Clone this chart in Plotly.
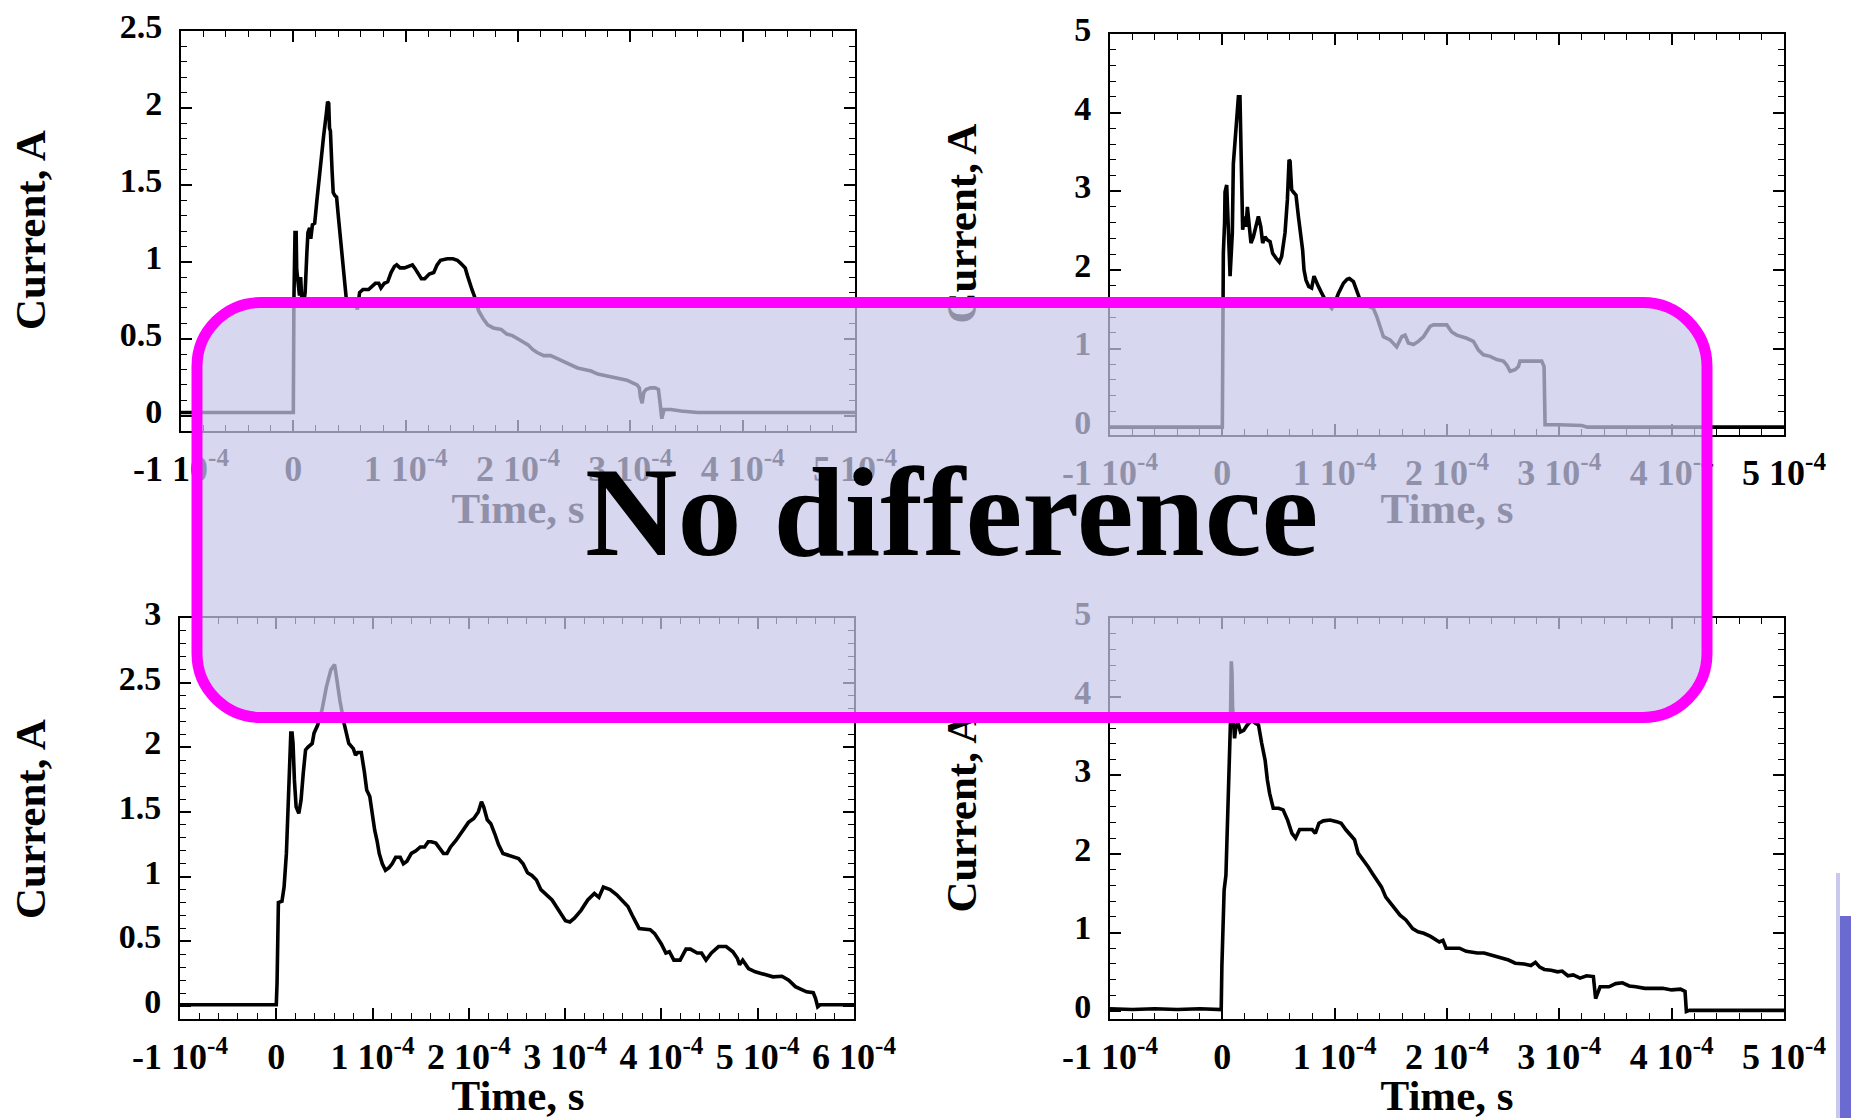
import plotly.graph_objects as go

W, H = 1851, 1118
SERIF = "Liberation Serif"

# ---------------------------------------------------------------------------
# Discharge current records: time in microseconds, current in amperes
# ---------------------------------------------------------------------------
time_a_us = [-100, -1, 0, 0.5, 1.0, 1.5, 2.5, 3.0, 4.0, 5.5, 6.5, 7.5, 9, 10.5, 12, 13, 14.5,
             15.5, 17, 19, 21, 23, 25, 27, 28.5, 29.5, 30.5, 31.5, 32.2, 33, 34.5, 35.5, 37,
             38.5, 40, 42, 43.5, 45, 47, 49, 52, 55, 57, 59, 62, 67, 70, 73, 76, 78, 81, 84,
             87, 90, 92, 95, 99, 102, 106, 108, 111, 114, 117, 121, 125, 128, 131, 137, 142,
             146, 149, 153, 155, 157, 159, 162, 165, 169, 173, 178, 185, 190, 195, 202, 209,
             213, 217, 223, 229, 235, 241, 247, 253, 259, 265, 271, 277, 283, 290, 297, 303,
             306, 308, 309, 310.5, 312, 314, 318, 322, 325, 326.5, 328, 330, 336, 345, 360,
             380, 500]
current_a = [0.02, 0.02, 0.02, 0.75, 0.88, 1.19, 1.19, 0.95, 0.88, 0.78, 0.90, 0.76, 0.72, 0.80,
             1.05, 1.19, 1.22, 1.15, 1.24, 1.25, 1.40, 1.52, 1.68, 1.82, 1.89, 1.97, 2.04, 2.03,
             1.87, 1.85, 1.59, 1.45, 1.43, 1.42, 1.30, 1.15, 1.05, 0.90, 0.77, 0.73, 0.75, 0.74,
             0.69, 0.80, 0.82, 0.82, 0.84, 0.86, 0.86, 0.83, 0.86, 0.87, 0.93, 0.97, 0.98, 0.96,
             0.96, 0.97, 0.98, 0.96, 0.92, 0.89, 0.89, 0.92, 0.93, 0.98, 1.01, 1.02, 1.02, 1.01,
             0.99, 0.96, 0.91, 0.86, 0.82, 0.76, 0.68, 0.63, 0.59, 0.57, 0.56, 0.53, 0.52, 0.49,
             0.46, 0.43, 0.41, 0.39, 0.39, 0.37, 0.35, 0.33, 0.31, 0.30, 0.29, 0.27, 0.26, 0.25,
             0.24, 0.23, 0.21, 0.20, 0.18, 0.12, 0.08, 0.15, 0.17, 0.18, 0.18, 0.17, 0.08, -0.02,
             0.04, 0.04, 0.03, 0.02, 0.02, 0.02]

time_b_us = [-100, -1, 0, 0.5, 0.9, 2.0, 2.4, 3.9, 4.8, 6.0, 6.9, 7.9, 8.9, 9.8, 11.3, 12.8, 14.3,
             15.7, 16.3, 17.2, 18.1, 19.6, 21.1, 22.3, 24.1, 25.5, 27.6, 29.7, 32.1, 34.2, 35.9,
             38.0, 40.1, 42.5, 44.8, 47.8, 50.8, 52.8, 55.8, 57.9, 59.4, 60.3, 61.7, 63.2, 65.6,
             67.7, 69.8, 71.5, 72.7, 74.5, 76.9, 79.5, 81.6, 83.4, 85.5, 87.9, 89.9, 93, 97.4,
             100, 103.3, 107.8, 111, 113.1, 116.7, 119.6, 122.6, 128, 134.4, 137.4, 140.4, 143.4,
             149.3, 155.2, 159.7, 162.7, 165.6, 170.1, 174.5, 179, 184.9, 187.9, 199.8, 204.2,
             208.7, 217.6, 223.5, 228, 232.4, 238.4, 244.3, 250.2, 253.2, 256.2, 260.6, 263.6,
             265, 268, 284.3, 286.4, 287.3, 300, 320, 325, 500]
current_b = [0.0, 0.0, 0.0, 1.2, 2.21, 2.6, 2.99, 3.08, 2.76, 2.30, 1.92, 2.2, 2.47, 3.35, 3.65,
             3.93, 4.20, 4.20, 3.82, 3.02, 2.51, 2.68, 2.55, 2.80, 2.59, 2.34, 2.42, 2.55, 2.68,
             2.55, 2.34, 2.42, 2.38, 2.36, 2.21, 2.15, 2.10, 2.17, 2.47, 2.89, 3.40, 3.38, 3.02,
             2.99, 2.95, 2.68, 2.47, 2.25, 2.0, 1.87, 1.79, 1.77, 1.92, 1.87, 1.79, 1.72, 1.66,
             1.58, 1.51, 1.58, 1.70, 1.83, 1.88, 1.89, 1.85, 1.74, 1.62, 1.55, 1.51, 1.41, 1.28,
             1.15, 1.11, 1.02, 1.15, 1.17, 1.07, 1.05, 1.09, 1.15, 1.28, 1.30, 1.30, 1.21, 1.17,
             1.13, 1.09, 0.98, 0.92, 0.90, 0.86, 0.84, 0.79, 0.71, 0.73, 0.77, 0.84, 0.84, 0.84,
             0.77, 0.03, 0.03, 0.02, 0.0, 0.0]

time_c_us = [-100, -1, 0, 0.8, 1.2, 2.2, 5.9, 8.1, 10.5, 11.9, 13.7, 15.1, 16.4, 17.4, 18.8,
             20.6, 23.4, 25.7, 28, 30.4, 32.7, 37.3, 39.2, 42.9, 47.5, 52.1, 56.7, 60.5, 62.4,
             66.1, 70.6, 73, 75.3, 80, 82.3, 84.6, 88.3, 91.5, 93.9, 97.1, 99.4, 102.2, 104.6,
             106.9, 110.1, 113.4, 117.1, 120.3, 124, 128.7, 132, 135.7, 140.3, 145, 149.6, 154,
             157.8, 161, 165.7, 169.4, 173.6, 177.3, 181, 186.6, 193.5, 199.6, 205.1, 209.8,
             213.1, 215.4, 219.1, 222.8, 227, 230.7, 235.4, 242.3, 251.6, 256.3, 260.9, 265.5,
             270.2, 274.8, 279.4, 286.4, 293.3, 300.3, 304.9, 309.6, 316.5, 323.5, 330.4, 335.1,
             339.7, 346.7, 353.6, 360.6, 365.2, 369.8, 376.8, 388.3, 393, 399.9, 404.6, 408.3,
             412.9, 419.4, 425.5, 430.1, 437.1, 441.7, 446.3, 451.9, 459.3, 467.2, 474.2, 478.8,
             481.1, 484.4, 490.4, 497.4, 504.3, 511.3, 515.9, 525.2, 532.2, 539.1, 546.1, 550.7,
             557.7, 560, 562.3, 564.7, 600]
current_c = [0.01, 0.01, 0.01, 0.18, 0.56, 0.80, 0.81, 0.92, 1.18, 1.44, 1.74, 2.11, 2.11, 2.03,
             1.75, 1.54, 1.49, 1.59, 1.80, 1.98, 2.00, 2.03, 2.11, 2.17, 2.29, 2.47, 2.60, 2.64,
             2.55, 2.36, 2.18, 2.09, 2.03, 1.99, 1.94, 1.96, 1.96, 1.81, 1.67, 1.62, 1.49, 1.36,
             1.28, 1.18, 1.10, 1.05, 1.07, 1.10, 1.15, 1.15, 1.10, 1.12, 1.18, 1.20, 1.23, 1.23,
             1.27, 1.27, 1.26, 1.22, 1.18, 1.18, 1.23, 1.28, 1.36, 1.42, 1.45, 1.50, 1.58, 1.54,
             1.44, 1.41, 1.33, 1.25, 1.18, 1.16, 1.14, 1.10, 1.03, 1.01, 0.975, 0.90, 0.87, 0.82,
             0.74, 0.66, 0.65, 0.68, 0.74, 0.82, 0.87, 0.84, 0.92, 0.90, 0.86, 0.81, 0.77, 0.70,
             0.60, 0.59, 0.56, 0.48, 0.41, 0.42, 0.355, 0.355, 0.44, 0.44, 0.41, 0.41, 0.355, 0.41,
             0.46, 0.46, 0.42, 0.37, 0.32, 0.355, 0.29, 0.265, 0.25, 0.24, 0.226, 0.23, 0.20, 0.15,
             0.124, 0.11, 0.103, 0.06, -0.005, 0.01, 0.01]

time_d_us = [-100, -80, -60, -40, -20, -1, -0.4, 0.8, 1.6, 3.2, 4.4, 5.6, 6.4, 7.2, 8.0, 8.6, 9.1,
             10.9, 12.1, 14.1, 16.1, 19, 22.2, 26.2, 29.4, 32.2, 35, 38.1, 40.1, 42.1, 45.3, 50.1,
             54.1, 58.1, 62, 65.2, 68.8, 74, 80, 82.8, 86, 89.9, 95.9, 101.8, 105.8, 109.8, 114.6,
             117.7, 120.9, 125.7, 129.6, 133.6, 137.6, 141.6, 145.5, 148.7, 153.5, 158.2, 163.4,
             169.4, 174.2, 179.3, 185.3, 193.2, 196.4, 199.2, 205.1, 211.1, 217.1, 227, 233,
             240.9, 248.9, 254.8, 260.8, 268.7, 274.7, 278.7, 282.6, 286.6, 292.6, 298.5, 302.5,
             307.6, 312.4, 318.4, 324.3, 330.3, 332.3, 334.3, 336.3, 344.2, 350.2, 356.2, 362.2,
             368.1, 376.1, 384, 392, 400, 407.9, 411.9, 413.1, 415.9, 500]
current_d = [0.03, 0.02, 0.03, 0.02, 0.03, 0.02, 0.57, 0.99, 1.54, 1.73, 2.26, 2.81, 3.32, 3.66,
             4.45, 4.30, 3.87, 3.47, 3.62, 3.66, 3.55, 3.57, 3.64, 3.70, 3.66, 3.64, 3.41, 3.19,
             2.94, 2.77, 2.58, 2.58, 2.56, 2.43, 2.26, 2.20, 2.31, 2.31, 2.31, 2.26, 2.39, 2.42,
             2.43, 2.41, 2.39, 2.31, 2.22, 2.18, 2.01, 1.92, 1.84, 1.75, 1.67, 1.58, 1.45, 1.39,
             1.31, 1.22, 1.16, 1.05, 1.01, 0.99, 0.95, 0.88, 0.90, 0.80, 0.80, 0.80, 0.76, 0.74,
             0.74, 0.71, 0.68, 0.65, 0.61, 0.60, 0.58, 0.62, 0.56, 0.53, 0.52, 0.50, 0.51, 0.45,
             0.46, 0.42, 0.45, 0.44, 0.16, 0.25, 0.31, 0.31, 0.35, 0.36, 0.32, 0.31, 0.29, 0.29,
             0.29, 0.27, 0.28, 0.25, -0.005, 0.01, 0.01]

# ---------------------------------------------------------------------------
# Tick positions and labels
# ---------------------------------------------------------------------------
time_ticks_s = [-1e-4, 0.0, 1e-4, 2e-4, 3e-4, 4e-4, 5e-4, 6e-4]
time_tick_labels = ["-1 10<sup>-4</sup>", "0", "1 10<sup>-4</sup>", "2 10<sup>-4</sup>",
                    "3 10<sup>-4</sup>", "4 10<sup>-4</sup>", "5 10<sup>-4</sup>",
                    "6 10<sup>-4</sup>"]
current_ticks_half = [0, 0.5, 1, 1.5, 2, 2.5, 3]
current_labels_half = ["0", "0.5", "1", "1.5", "2", "2.5", "3"]
current_ticks_unit = [0, 1, 2, 3, 4, 5]
current_labels_unit = ["0", "1", "2", "3", "4", "5"]

x_title = "Time, s"
y_title = "Current, A"
banner_text = "No difference"

# Panel frames in pixels (left, right, top, bottom) plus axis settings
panels = [
    dict(t=time_a_us, i=current_a, box=(181, 855, 31, 431), xmax=5e-4, ymax=2.5,
         yt=current_ticks_half[:6], yl=current_labels_half[:6], yminor=0.1),
    dict(t=time_b_us, i=current_b, box=(1110, 1784, 34, 435), xmax=5e-4, ymax=5,
         yt=current_ticks_unit, yl=current_labels_unit, yminor=0.2),
    dict(t=time_c_us, i=current_c, box=(180, 854, 618, 1019), xmax=6e-4, ymax=3,
         yt=current_ticks_half, yl=current_labels_half, yminor=0.1),
    dict(t=time_d_us, i=current_d, box=(1110, 1784, 618, 1019), xmax=5e-4, ymax=5,
         yt=current_ticks_unit, yl=current_labels_unit, yminor=0.2),
]

TICK_FONT_X = dict(family=SERIF, size=36, color="black", weight="bold")
TICK_FONT_Y = dict(family=SERIF, size=34, color="black", weight="bold")
TITLE_FONT = dict(family=SERIF, size=43, color="black", weight="bold")

frame = dict(showline=True, linecolor="black", linewidth=1.7, mirror="ticks",
             ticks="inside", ticklen=11, tickwidth=1.5, tickcolor="black",
             showgrid=False, zeroline=False, fixedrange=True, automargin=False)
bare = dict(showline=False, showgrid=False, zeroline=False, ticks="",
            autorange=False, fixedrange=True, automargin=False)

fig = go.Figure()
layout = {}

for n, p in enumerate(panels, start=1):
    sfx = "" if n == 1 else str(n)
    left, right, top, bottom = p["box"]
    fig.add_trace(go.Scatter(
        x=[v * 1e-6 for v in p["t"]], y=p["i"], mode="lines",
        line=dict(color="black", width=3.6), xaxis="x" + sfx, yaxis="y" + sfx,
        showlegend=False, hoverinfo="skip"))
    nx = sum(1 for v in time_ticks_s if v <= p["xmax"] + 1e-9)
    layout["xaxis" + sfx] = dict(
        frame, domain=[left / W, right / W], range=[-1e-4, p["xmax"]], anchor="y" + sfx,
        tickmode="array", tickvals=time_ticks_s[:nx], ticktext=time_tick_labels[:nx],
        tickfont=TICK_FONT_X, ticklabelstandoff=5,
        minor=dict(tickmode="linear", tick0=0, dtick=2e-5, ticks="inside", ticklen=6,
                   tickwidth=1.3, tickcolor="black"))
    layout["yaxis" + sfx] = dict(
        frame, domain=[1 - bottom / H, 1 - top / H], range=[-0.1, p["ymax"]],
        anchor="x" + sfx, tickmode="array", tickvals=p["yt"], ticktext=p["yl"],
        tickfont=TICK_FONT_Y, ticklabelstandoff=10, ticklabelshift=-5,
        minor=dict(tickmode="linear", tick0=0, dtick=p["yminor"], ticks="inside",
                   ticklen=6, tickwidth=1.3, tickcolor="black"))

# Full-page pixel axes, used to place captions that sit underneath the banner
layout["xaxis5"] = dict(bare, domain=[0, 1], range=[0, W], anchor="y5",
                        showticklabels=False)
layout["yaxis5"] = dict(bare, domain=[0, 1], range=[H, 0], anchor="x5",
                        showticklabels=False)
fig.add_trace(go.Scatter(
    x=[518, 1447, 518, 1447], y=[512, 512, 1099, 1099], mode="text",
    text=[x_title] * 4, textposition="middle center", textfont=TITLE_FONT,
    xaxis="x5", yaxis="y5", showlegend=False, hoverinfo="skip", cliponaxis=False))

# Rotated captions of the right-hand column, drawn as tick labels of a free axis
right_caption_rows = [230, 819]
layout["yaxis6"] = dict(
    bare, overlaying="y5", anchor="free", position=985 / W, side="left",
    range=[H, 0], tickmode="array", tickvals=right_caption_rows,
    ticktext=[y_title] * len(right_caption_rows), tickangle=-90, tickfont=TITLE_FONT)
fig.add_trace(go.Scatter(x=[None], y=[None], xaxis="x5", yaxis="y6",
                         showlegend=False, hoverinfo="skip"))


def rounded_rect_path(left, top, right, bottom, r):
    k = 0.5523 * r

    def P(x, y):
        return f"{x / W:.6f},{1 - y / H:.6f}"

    return (f"M {P(left + r, top)} L {P(right - r, top)} "
            f"C {P(right - r + k, top)} {P(right, top + r - k)} {P(right, top + r)} "
            f"L {P(right, bottom - r)} "
            f"C {P(right, bottom - r + k)} {P(right - r + k, bottom)} {P(right - r, bottom)} "
            f"L {P(left + r, bottom)} "
            f"C {P(left + r - k, bottom)} {P(left, bottom - r + k)} {P(left, bottom - r)} "
            f"L {P(left, top + r)} "
            f"C {P(left, top + r - k)} {P(left + r - k, top)} {P(left + r, top)} Z")


shapes = [
    # translucent banner across the middle of the page
    dict(type="path", xref="paper", yref="paper", layer="above",
         path=rounded_rect_path(197, 302.5, 1707, 717.5, 64),
         fillcolor="rgba(200,200,234,0.72)", line=dict(color="#ff00ff", width=11)),
    # slide edge decoration at the lower right
    dict(type="rect", xref="paper", yref="paper", layer="above",
         x0=1836 / W, x1=1840 / W, y0=0, y1=1 - 873 / H,
         fillcolor="#c9c9ee", line=dict(width=0)),
    dict(type="rect", xref="paper", yref="paper", layer="above",
         x0=1840 / W, x1=1, y0=0, y1=1 - 916 / H,
         fillcolor="#6a6ad0", line=dict(width=0)),
]

annotations = [
    dict(text=banner_text, xref="paper", yref="paper", x=951.5 / W, y=1 - 512 / H,
         xanchor="center", yanchor="middle", showarrow=False,
         font=dict(family=SERIF, size=128, color="black", weight="bold")),
]
# left-hand column captions lie clear of the banner
for row in (230, 819):
    annotations.append(dict(text=y_title, xref="paper", yref="paper", x=30 / W,
                            y=1 - row / H, xanchor="center", yanchor="middle",
                            textangle=-90, showarrow=False, font=TITLE_FONT))

fig.update_layout(
    width=W, height=H, autosize=False,
    margin=dict(l=0, r=0, t=0, b=0, pad=0, autoexpand=False),
    paper_bgcolor="white", plot_bgcolor="rgba(0,0,0,0)",
    shapes=shapes, annotations=annotations, showlegend=False,
    **layout)

fig.write_html("out.html", config={"displayModeBar": False})
